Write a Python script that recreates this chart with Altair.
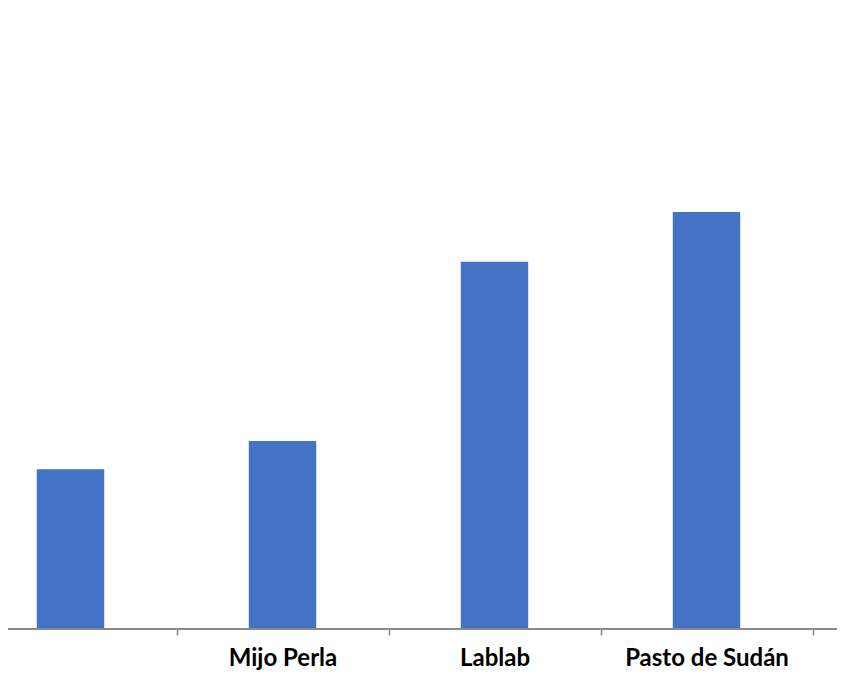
import altair as alt
import pandas as pd

categories = ["", "Mijo Perla", "Lablab", "Pasto de Sudán"]
values = [1.80, 2.12, 4.14, 4.70]

df = pd.DataFrame({"cat": categories, "val": values})

W, H = 829, 621

bars = alt.Chart(df).mark_bar(color="#4472C4", width={"band": 0.318}, clip=True).encode(
    x=alt.X(
        "cat:N",
        sort=categories,
        scale=alt.Scale(range=[-43.5, 804.5], paddingInner=0, paddingOuter=0),
        axis=alt.Axis(
            title=None,
            domain=False,
            tickBand="extent",
            tickColor="#8a8a8a",
            tickSize=6,
            tickWidth=1.5,
            labelAngle=0,
            labelFont="Lato",
            labelFontWeight="bold",
            labelFontSize=24,
            labelColor="#000000",
            labelPadding=11,
        ),
    ),
    y=alt.Y("val:Q", scale=alt.Scale(domain=[0, 7]), axis=None),
)

base_line = alt.Chart(df).mark_rule(color="#8a8a8a", strokeWidth=1.5).encode(
    x=alt.value(0), x2=alt.value(W), y=alt.value(H)
)

chart = alt.layer(bars, base_line).properties(
    width=W, height=H, padding={"left": 0, "top": 0, "right": 0, "bottom": 55},
    autosize=alt.AutoSizeParams(type="none"),
).configure_view(stroke=None)

chart.save("out.html", embed_options={"renderer": "svg", "actions": False})
